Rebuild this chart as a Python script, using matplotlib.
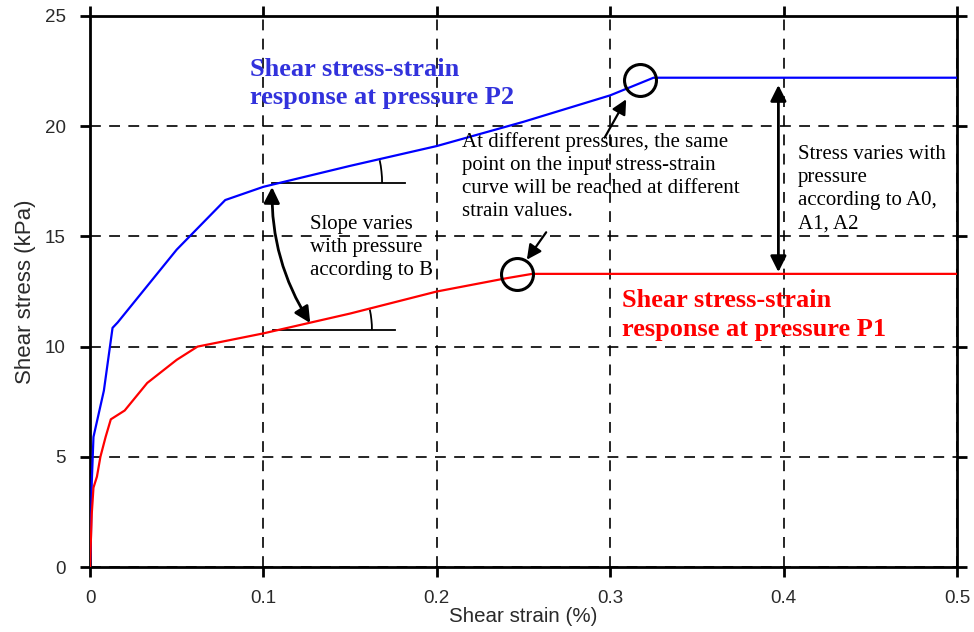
import matplotlib
matplotlib.use("Agg")
import matplotlib.pyplot as plt
from matplotlib.patches import Arc
from matplotlib.transforms import ScaledTranslation

# ---- data ----
strain_p1 = [0, 0.001, 0.002, 0.004, 0.006, 0.009, 0.012, 0.02, 0.033, 0.05, 0.062,
             0.1, 0.15, 0.2, 0.24, 0.255, 0.5]
stress_p1 = [0, 2.4, 3.6, 4.1, 5.0, 5.9, 6.7, 7.1, 8.35, 9.4, 10.0,
             10.6, 11.5, 12.5, 13.1, 13.3, 13.3]
strain_p2 = [0, 0.0005, 0.001, 0.002, 0.008, 0.013, 0.016, 0.05, 0.078, 0.1,
             0.15, 0.2, 0.25, 0.3, 0.325, 0.5]
stress_p2 = [0, 1.2, 3.8, 5.9, 8.0, 10.85, 11.1, 14.4, 16.65, 17.25,
             18.2, 19.1, 20.2, 21.4, 22.2, 22.2]
x_ticks = [0, 0.1, 0.2, 0.3, 0.4, 0.5]
x_tick_labels = ["0", "0.1", "0.2", "0.3", "0.4", "0.5"]
y_ticks = [0, 5, 10, 15, 20, 25]

fig = plt.figure(figsize=(9.74, 6.32), dpi=100)
ax = fig.add_axes([90/974, 65/632, (957-90)/974, (567-16)/632])

ax.plot(strain_p2, stress_p2, color="#0000ff", lw=1.6, zorder=3)
ax.plot(strain_p1, stress_p1, color="#ff0000", lw=1.6, zorder=3)

ax.set_xlim(0, 0.5)
ax.set_ylim(0, 25)
ax.set_xticks(x_ticks)
ax.set_xticklabels(x_tick_labels)
ax.set_yticks(y_ticks)

ax.grid(True, color="black", linestyle=(0, (6.5, 5)), linewidth=1.2)
for s in ax.spines.values():
    s.set_linewidth(2)
ax.tick_params(direction="out", length=7.5, width=2, top=True, right=True,
               labelsize=13.5, pad=10)
ax.tick_params(axis="x", pad=9)
for lab in ax.get_xticklabels() + ax.get_yticklabels():
    lab.set_fontfamily("Liberation Sans")
    lab.set_color("#2a2a2a")

ax.set_xlabel("Shear strain (%)", fontsize=14.8, family="Liberation Sans",
              color="#2a2a2a", labelpad=0)
ax.set_ylabel("Shear stress (kPa)", fontsize=16, family="Liberation Sans",
              color="#2a2a2a", labelpad=6)

serif = "Liberation Serif"
ax.text(0.0923, 23.1, "Shear stress-strain\nresponse at pressure P2", color="#3232dc",
        fontsize=19, fontweight="bold", family=serif, va="top", ha="left", linespacing=1.3)
ax.text(0.3068, 12.6, "Shear stress-strain\nresponse at pressure P1", color="#ff0000",
        fontsize=19, fontweight="bold", family=serif, va="top", ha="left", linespacing=1.3)
ax.text(0.2145, 19.73, "At different pressures, the same\npoint on the input stress-strain\n"
        "curve will be reached at different\nstrain values.", color="black",
        fontsize=15, family=serif, va="top", ha="left", linespacing=1.29)
ax.text(0.1269, 15.97, "Slope varies\nwith pressure\naccording to B", color="black",
        fontsize=15, family=serif, va="top", ha="left", linespacing=1.29)
ax.text(0.4083, 19.13, "Stress varies with\npressure\naccording to A0,\nA1, A2", color="black",
        fontsize=15, family=serif, va="top", ha="left", linespacing=1.29)

# circles
ax.plot([0.317], [22.1], marker="o", ms=23, mfc="none", mec="black", mew=2.2, zorder=4)
ax.plot([0.246], [13.29], marker="o", ms=23, mfc="none", mec="black", mew=2.2, zorder=4)

# arrows
ap = dict(arrowstyle="-|>", color="black", lw=1.6, mutation_scale=22)
ax.annotate("", xy=(0.310, 21.33), xytext=(0.296, 19.37), arrowprops=ap)
ax.annotate("", xy=(0.251, 13.84), xytext=(0.264, 15.29), arrowprops=ap)
apd = dict(arrowstyle="<|-|>", color="black", lw=2, mutation_scale=24, shrinkA=0, shrinkB=0)
ax.annotate("", xy=(0.397, 13.38), xytext=(0.397, 21.87), arrowprops=apd)
apc = dict(arrowstyle="<|-|>", color="black", lw=2, mutation_scale=24, shrinkA=0, shrinkB=0,
           connectionstyle="arc3,rad=0.15")
ax.annotate("", xy=(0.127, 11.07), xytext=(0.105, 17.24), arrowprops=apc)

# slope indicators
ax.plot([0.105, 0.1817], [17.42, 17.42], color="black", lw=1.3)
ax.plot([0.1055, 0.176], [10.75, 10.75], color="black", lw=1.3)
for (x0, y0, r, th) in [(0.105, 17.42, 1.10, 12), (0.1055, 10.75, 0.99, 12)]:
    tr = fig.dpi_scale_trans + ScaledTranslation(x0, y0, ax.transData)
    arc = Arc((0, 0), 2*r, 2*r, theta1=0, theta2=th, transform=tr, color="black", lw=1.3)
    ax.add_patch(arc)

fig.savefig("out.png", dpi=100)
